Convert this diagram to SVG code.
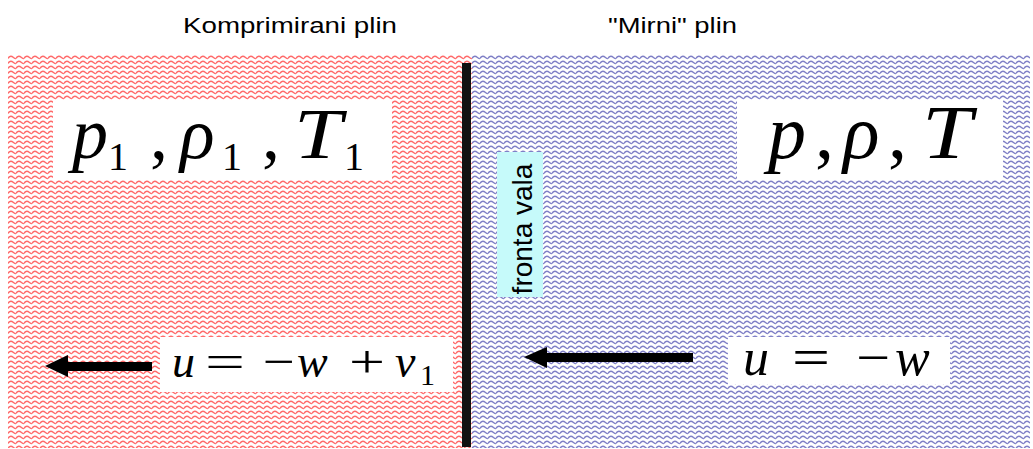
<svg xmlns="http://www.w3.org/2000/svg" width="1033" height="449" viewBox="0 0 1033 449">
<defs>
<pattern id="pr" width="8" height="5" patternUnits="userSpaceOnUse">
<rect width="8" height="5" fill="#ffffff"/>
<path d="M0 3.5 C1.3 1 2.7 1 4 1.5 C5.3 2 6.7 4 8 3.5" fill="none" stroke="#ff1a1a" stroke-width="1.5" stroke-opacity="0.65"/>
</pattern>
<pattern id="pb" width="8" height="5" patternUnits="userSpaceOnUse">
<rect width="8" height="5" fill="#ffffff"/>
<path d="M0 3.5 C1.3 1 2.7 1 4 1.5 C5.3 2 6.7 4 8 3.5" fill="none" stroke="#2a2aa0" stroke-width="1.5" stroke-opacity="0.6"/>
</pattern>
<style>
.lbl{font-family:"Liberation Sans",Arial,sans-serif;font-size:22px;fill:#000}
.m{font-family:"Liberation Serif","Times New Roman",serif;font-style:italic;fill:#000}
.r{font-family:"Liberation Serif","Times New Roman",serif;font-style:normal;fill:#000}
.box{fill:#ffffff}
.arr{fill:#000}
</style>
</defs>
<rect width="1033" height="449" fill="#ffffff"/>
<g id="region-compressed">
<rect x="8" y="55" width="464" height="393" fill="url(#pr)"/>
</g>
<g id="region-still">
<rect x="472" y="55" width="558" height="393" fill="url(#pb)"/>
</g>
<g id="wavefront">
<rect x="462" y="63" width="9" height="384" fill="#111111"/>
</g>
<g id="labels">
<text class="lbl" x="183" y="33" textLength="214" lengthAdjust="spacingAndGlyphs">Komprimirani plin</text>
<text class="lbl" x="608" y="33" textLength="129" lengthAdjust="spacingAndGlyphs">"Mirni" plin</text>
</g>
<g id="node-fronta">
<rect x="497" y="152" width="46" height="145" fill="#c6fafa"/>
<text class="lbl" style="font-size:28px" text-anchor="middle" transform="translate(532,229) rotate(-90)">fronta vala</text>
</g>
<g id="node-state1">
<rect class="box" x="53" y="100" width="339" height="80"/>
<text class="m" x="72" y="158" font-size="72">p</text>
<text class="r" x="108" y="170" font-size="40">1</text>
<text class="r" x="150" y="158" font-size="72">,</text>
<text class="m" x="180" y="158" font-size="72">ρ</text>
<text class="r" x="222" y="170" font-size="40">1</text>
<text class="r" x="262" y="158" font-size="72">,</text>
<text class="m" x="294" y="158" font-size="72" textLength="48" lengthAdjust="spacingAndGlyphs">T</text>
<text class="r" x="344" y="170" font-size="40">1</text>
</g>
<g id="node-state0">
<rect class="box" x="737" y="100" width="266" height="80"/>
<text class="m" x="768" y="158" font-size="76">p</text>
<text class="r" x="815" y="158" font-size="76">,</text>
<text class="m" x="843" y="158" font-size="76">ρ</text>
<text class="r" x="888" y="158" font-size="76">,</text>
<text class="m" x="922" y="158" font-size="76" textLength="50" lengthAdjust="spacingAndGlyphs">T</text>
</g>
<g id="node-u1">
<rect class="box" x="160" y="337" width="293" height="55"/>
<text class="m" x="172" y="377" font-size="46">u</text>
<text class="r" x="205" y="377" font-size="46" textLength="40" lengthAdjust="spacingAndGlyphs">=</text>
<text class="r" x="263" y="377" font-size="46" textLength="32" lengthAdjust="spacingAndGlyphs">−</text>
<text class="m" x="297" y="377" font-size="46">w</text>
<text class="r" x="349" y="377" font-size="46" textLength="36" lengthAdjust="spacingAndGlyphs">+</text>
<text class="m" x="395" y="377" font-size="46">v</text>
<text class="r" x="420" y="385" font-size="30">1</text>
</g>
<g id="node-u0">
<rect class="box" x="728" y="337" width="222" height="47"/>
<text class="m" x="743" y="375" font-size="52">u</text>
<text class="r" x="792" y="375" font-size="52" textLength="38" lengthAdjust="spacingAndGlyphs">=</text>
<text class="r" x="856" y="375" font-size="52" textLength="34" lengthAdjust="spacingAndGlyphs">−</text>
<text class="m" x="895" y="375" font-size="52">w</text>
</g>
<g id="connectors">
<polygon class="arr" points="45,366 68,355 68,362 152,362 152,371 68,371 68,377"/>
<polygon class="arr" points="524,357 547,347 547,353 693,353 693,362 547,362 547,368"/>
</g>
</svg>
